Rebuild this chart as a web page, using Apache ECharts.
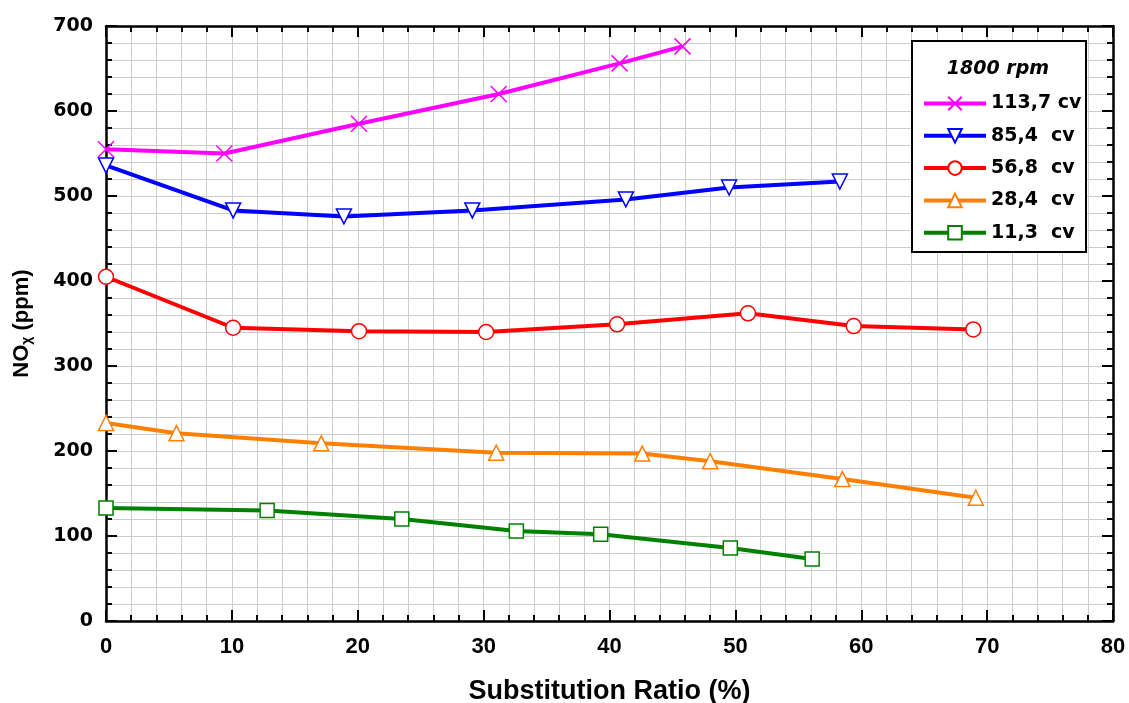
<!DOCTYPE html>
<html><head><meta charset="utf-8">
<script src="https://cdn.jsdelivr.net/npm/echarts@6/dist/echarts.min.js"></script>
<style>html,body{margin:0;padding:0;background:#fff}#c{width:1129px;height:703px}</style>
</head><body><div id="c"></div>
<script>
const names = ['113,7 cv', '85,4  cv', '56,8  cv', '28,4  cv', '11,3  cv'];
const s113x = [0, 9.4, 20.1, 31.2, 40.8, 45.8];
const s113y = [555, 550, 585, 620, 656, 676];
const s85x = [0, 10.1, 18.9, 29.1, 41.3, 49.5, 58.3];
const s85y = [536, 483, 476, 483, 496, 510, 517];
const s56x = [0, 10.1, 20.1, 30.2, 40.6, 51.0, 59.4, 68.9];
const s56y = [405, 345, 341, 340, 349, 362, 347, 343];
const s28x = [0, 5.6, 17.1, 31.0, 42.6, 48.0, 58.5, 69.1];
const s28y = [233, 221, 209, 198, 197, 188, 167, 145];
const s11x = [0, 12.8, 23.5, 32.6, 39.3, 49.6, 56.1];
const s11y = [133, 130, 120, 106, 102, 86, 73];
const legendTitle = '1800 rpm';
const xTitle = 'Substitution Ratio (%)';

const colors = ['#ff00ff', '#0000ff', '#ff0000', '#ff8000', '#008000'];
const symbols = ['path://M0,0L10,10M10,0L0,10', 'triangle', 'circle', 'triangle', 'rect'];
const xs = [s113x, s85x, s56x, s28x, s11x];
const ys = [s113y, s85y, s56y, s28y, s11y];

const arial = '"Liberation Sans", Arial, sans-serif';
const deja = '"DejaVu Sans", sans-serif';
const series = names.map((n, i) => ({
  name: n, type: 'line', xAxisIndex: 0, yAxisIndex: 0,
  data: xs[i].map((x, j) => [x, ys[i][j]]),
  lineStyle: { color: colors[i], width: 4 },
  symbol: symbols[i],
  symbolSize: i === 0 ? 16 : (i === 4 ? 14 : 15),
  symbolRotate: i === 1 ? 180 : 0,
  itemStyle: { color: i === 0 ? colors[i] : '#fff', borderColor: colors[i], borderWidth: 1.5 },
  z: 5
}));

const gridLine = { show: true, lineStyle: { color: '#cccccc', width: 1 } };
function major(dim, pos, extra) {
  const base = {
    type: 'value', position: pos,
    axisLine: { show: true, onZero: false, lineStyle: { color: '#000', width: 2.5 } },
    axisTick: { show: true, inside: true, length: 11, lineStyle: { color: '#000', width: 2 } },
    splitLine: { show: false }
  };
  if (dim === 'x') Object.assign(base, { min: 0, max: 80, interval: 10 });
  else Object.assign(base, { min: 0, max: 700, interval: 100 });
  return Object.assign(base, extra);
}
function minor(dim, pos, showGrid) {
  const base = {
    type: 'value', position: pos,
    axisLine: { show: false, onZero: false },
    axisLabel: { show: false },
    axisTick: { show: true, inside: true, length: 6, lineStyle: { color: '#000', width: 2 } },
    splitLine: showGrid ? gridLine : { show: false }
  };
  if (dim === 'x') Object.assign(base, { min: 0, max: 80, interval: 2 });
  else Object.assign(base, { min: 0, max: 700, interval: 20 });
  return base;
}

const option = {
  animation: false,
  backgroundColor: '#fff',
  grid: { left: 106, right: 16, top: 26, bottom: 82, containLabel: false, outerBoundsMode: 'none' },
  xAxis: [
    major('x', 'bottom', {
      name: xTitle, nameLocation: 'middle', nameGap: 57,
      nameTextStyle: { fontFamily: arial, fontWeight: 'bold', fontSize: 27, color: '#000' },
      axisLabel: { fontFamily: arial, fontWeight: 'bold', fontSize: 22, color: '#000', margin: 15 }
    }),
    major('x', 'top', { axisLabel: { show: false } }),
    minor('x', 'bottom', true),
    minor('x', 'top', false)
  ],
  yAxis: [
    major('y', 'left', {
      name: '{a|NO}{s|χ}{a| (ppm)}', nameLocation: 'middle', nameGap: 72, nameRotate: 90,
      nameTextStyle: { rich: {
        a: { fontFamily: arial, fontWeight: 'bold', fontSize: 22, color: '#000' },
        s: { fontFamily: arial, fontWeight: 'bold', fontSize: 14, color: '#000', verticalAlign: 'bottom', padding: [10, 0, 0, 0] }
      } },
      axisLabel: { fontFamily: deja, fontWeight: 'bold', fontSize: 19, color: '#000', margin: 13, padding: [5, 0, 0, 0] }
    }),
    major('y', 'right', { axisLabel: { show: false } }),
    minor('y', 'left', true),
    minor('y', 'right', false)
  ],
  legend: {
    orient: 'vertical', left: 917, top: 89, itemWidth: 62, itemHeight: 17, itemGap: 13.3,
    lineStyle: { width: 4 },
    textStyle: { fontFamily: deja, fontWeight: 'bold', fontSize: 19, lineHeight: 17, color: '#000' },
    data: names, z: 20
  },
  graphic: [
    { type: 'rect', shape: { x: 912, y: 41, width: 174, height: 211 }, style: { fill: '#fff', stroke: '#000', lineWidth: 2 }, z: 15 },
    { type: 'text', x: 998, y: 69, style: { text: legendTitle, fontFamily: deja, fontWeight: 'bold', fontStyle: 'italic', fontSize: 19, fill: '#000', textAlign: 'center', textVerticalAlign: 'middle' }, z: 20 }
  ],
  series: series
};
const chart = echarts.init(document.getElementById('c'), null, { renderer: 'canvas' });
chart.setOption(option);
</script></body></html>
